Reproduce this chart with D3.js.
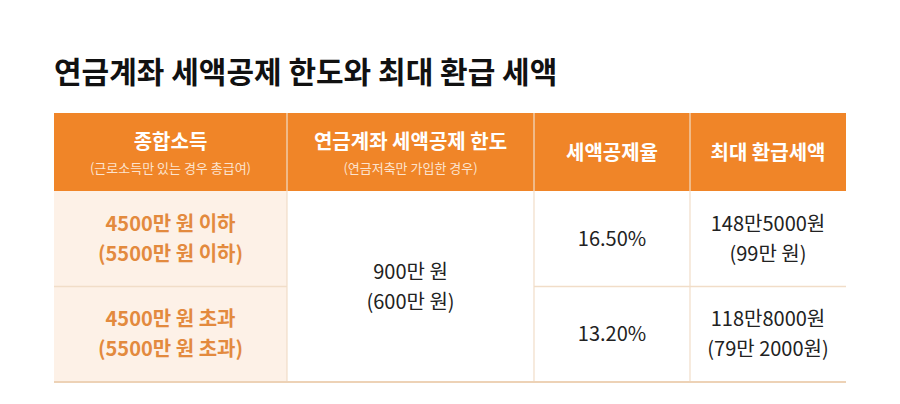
<!DOCTYPE html>
<html><head><meta charset="utf-8">
<script src="https://cdn.jsdelivr.net/npm/d3@7"></script>
<style>body{margin:0;background:#fff}text{font-family:"Noto Sans CJK KR","Noto Sans",sans-serif}</style>
</head><body><svg id="c" width="900" height="404"></svg>
<script>
const title = "연금계좌 세액공제 한도와 최대 환급 세액";
const headers = ["종합소득", "연금계좌 세액공제 한도", "세액공제율", "최대 환급세액"];
const subHeaders = ["(근로소득만 있는 경우 총급여)", "(연금저축만 가입한 경우)", "", ""];
const incomeLabels = [["4500만 원 이하", "(5500만 원 이하)"], ["4500만 원 초과", "(5500만  원 초과)"]];
const limitLabel = ["900만 원", "(600만 원)"];
const rates = ["16.50%", "13.20%"];
const refunds = [["148만5000원", "(99만 원)"], ["118만8000원", "(79만 2000원)"]];
const colWidths = [233, 247, 156, 156];

const svg = d3.select("#c");
const x0 = 54, right = 846, headTop = 113, headBot = 191, bottom = 382;
const edges = [x0]; colWidths.forEach(w => edges.push(edges[edges.length-1] + w));
const y = d3.scaleBand().domain([0,1]).range([headBot, bottom]);
const orange = "#F08528", text = "#222";

svg.append("text").attr("x", 54).attr("y", 83).attr("font-size", 30).attr("font-weight", 700).attr("fill", "#111").text(title);

svg.append("rect").attr("x", x0).attr("y", headTop).attr("width", right - x0).attr("height", headBot - headTop).attr("fill", orange);
headers.forEach((h, i) => {
  const cx = (edges[i] + edges[i+1]) / 2;
  const sub = subHeaders[i];
  svg.append("text").attr("x", cx).attr("y", sub ? 149 : 160).attr("text-anchor", "middle")
    .attr("font-size", 20).attr("font-weight", 700).attr("fill", "#fff").text(h);
  if (sub) svg.append("text").attr("x", cx).attr("y", 173).attr("text-anchor", "middle")
    .attr("font-size", 13).attr("fill", "#FCE3CE").text(sub);
});
svg.selectAll(".lbg").data([0,1]).join("rect").attr("x", x0).attr("y", d => y(d)).attr("width", colWidths[0]).attr("height", y.bandwidth()).attr("fill", "#FDF1E7");
const lineC = "#F1DDC8";
edges.slice(1, 4).forEach(e => svg.append("line").attr("x1", e).attr("x2", e).attr("y1", headTop).attr("y2", bottom).attr("stroke", lineC).attr("stroke-width", 1.2));
svg.append("line").attr("x1", x0).attr("x2", edges[1]).attr("y1", y(1)).attr("y2", y(1)).attr("stroke", lineC).attr("stroke-width", 1.5);
svg.append("line").attr("x1", edges[2]).attr("x2", right).attr("y1", y(1)).attr("y2", y(1)).attr("stroke", lineC).attr("stroke-width", 1.5);
svg.append("line").attr("x1", x0).attr("x2", right).attr("y1", bottom).attr("y2", bottom).attr("stroke", "#EDD2B6").attr("stroke-width", 2);

function twoLines(cx, cy, lines, opts) {
  lines.forEach((l, k) => svg.append("text").attr("x", cx).attr("y", cy + (k - (lines.length-1)/2) * 30 + 7)
    .attr("text-anchor", "middle").attr("font-size", opts.size).attr("font-weight", opts.weight).attr("fill", opts.fill).text(l));
}
[0,1].forEach(r => {
  const cy = y(r) + y.bandwidth()/2;
  twoLines((edges[0]+edges[1])/2, cy, incomeLabels[r], {size: 20, weight: 700, fill: "#E38A3E"});
  twoLines((edges[2]+edges[3])/2, cy, [rates[r]], {size: 20, weight: 400, fill: text});
  twoLines((edges[3]+edges[4])/2, cy, refunds[r], {size: 20, weight: 400, fill: text});
});
twoLines((edges[1]+edges[2])/2, (headBot+bottom)/2, limitLabel, {size: 20, weight: 400, fill: text});
</script></body></html>
